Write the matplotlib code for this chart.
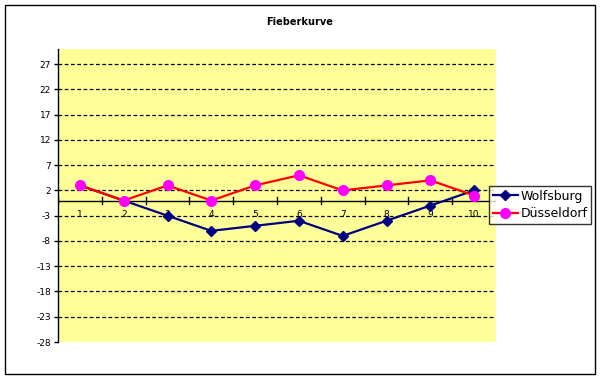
import matplotlib
matplotlib.use("Agg")
import matplotlib.pyplot as plt
from matplotlib.patches import Rectangle

# Daten
tage = [1, 2, 3, 4, 5, 6, 7, 8, 9, 10]
wolfsburg = [3, 0, -3, -6, -5, -4, -7, -4, -1, 2]
duesseldorf = [3, 0, 3, 0, 3, 5, 2, 3, 4, 1]
y_ticks = [-28, -23, -18, -13, -8, -3, 2, 7, 12, 17, 22, 27]

plt.rcParams['font.family'] = ['DejaVu Sans']

fig = plt.figure(figsize=(6.01, 3.79), dpi=100)
ax = fig.add_axes([58/601, 37/379, 438/601, 293/379])
ax.set_facecolor('#FFFF99')

ax.plot(tage, wolfsburg, color='#000080', linewidth=1.6, marker='D',
        markersize=5.5, markerfacecolor='#000080', markeredgecolor='#000080',
        label='Wolfsburg', zorder=3)
ax.plot(tage, duesseldorf, color='#FF0000', linewidth=1.6, marker='o',
        markersize=7, markerfacecolor='#FF00FF', markeredgecolor='#FF00FF',
        label='Düsseldorf', zorder=4)

ax.set_xlim(0.5, 10.5)
ax.set_ylim(-28, 30)
ax.set_yticks(y_ticks)
ax.set_yticklabels([str(v) for v in y_ticks], fontsize=6.5)
for v in y_ticks:
    if v != -28:
        ax.axhline(v, color='black', linestyle=(0, (3, 2)), linewidth=0.9, zorder=1)

# Kategorieachse bei y=0
for s in ['top', 'right', 'bottom']:
    ax.spines[s].set_visible(False)
ax.spines['left'].set_linewidth(1)
ax.axhline(0, color='black', linewidth=1, zorder=2)
ax.set_xticks([])
for i in range(11):
    ax.plot([0.5 + i, 0.5 + i], [-0.7, 0.7], color='black', linewidth=1, zorder=2)
for t in tage:
    ax.text(t, -1.8, str(t), ha='center', va='top', fontsize=6.5, zorder=2)
ax.tick_params(axis='y', length=3, width=1, pad=2)

fig.text(300/601, 1 - 22/379, 'Fieberkurve', ha='center', va='center',
         fontsize=7, fontweight='bold')

leg = fig.legend(loc='upper left', bbox_to_anchor=(489/601, 1 - 186/379),
                 fontsize=9, frameon=True, fancybox=False, edgecolor='black',
                 borderpad=0.3, labelspacing=0.35, handlelength=2.0,
                 handletextpad=0.2, borderaxespad=0)
leg.get_frame().set_linewidth(1)

fig.patches.append(Rectangle((5/601, 5/379), 590/601, 369/379, fill=False,
                             edgecolor='black', linewidth=1,
                             transform=fig.transFigure, figure=fig))

fig.savefig('out.png', dpi=100)
